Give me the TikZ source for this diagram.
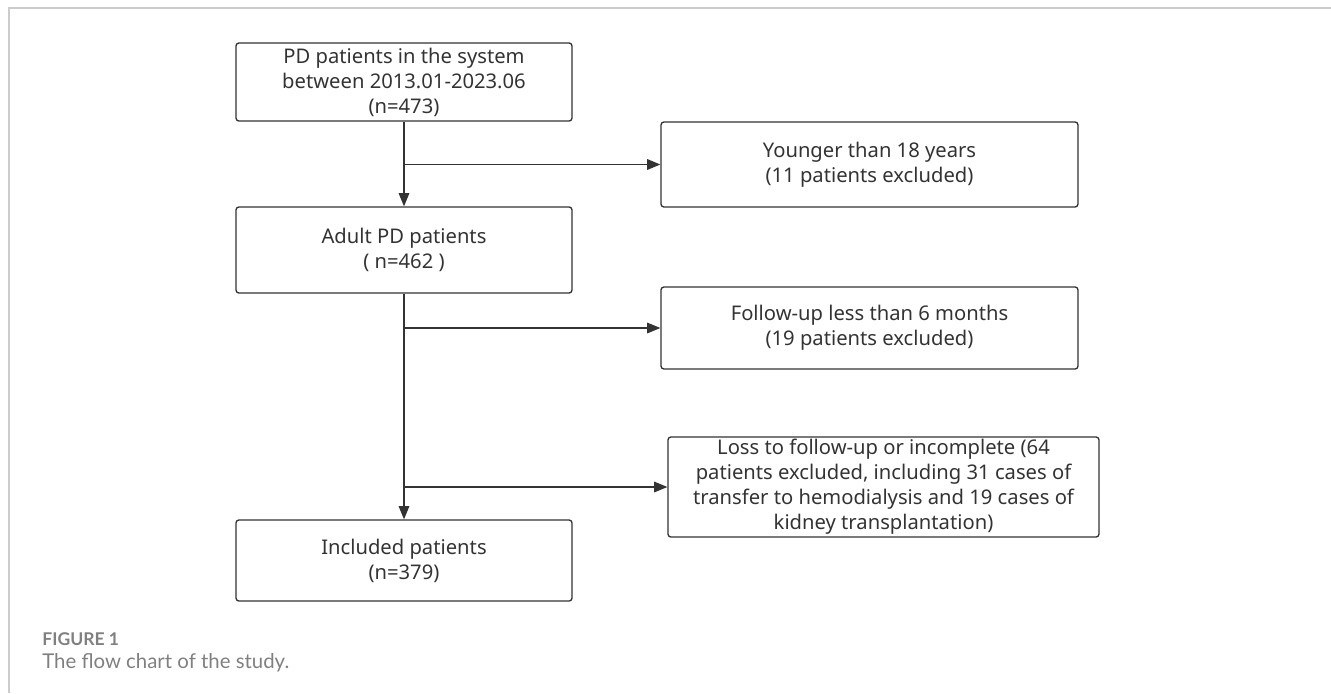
\documentclass[tikz,border=0pt]{standalone}
\usepackage{fontspec}
\setmainfont{Noto Sans}
\newfontfamily\capfont{Lato}
\usetikzlibrary{arrows.meta}
\definecolor{boxtext}{HTML}{333333}
\definecolor{capgray}{HTML}{808080}
\definecolor{framegray}{HTML}{CCCCCC}
\begin{document}
\begin{tikzpicture}[x = .02cm, y = -.02cm,
    flowbox/.style = {draw = boxtext, line width = .75pt, rounded corners = 1.6pt,
      align = center, inner sep = 0pt, text = boxtext,
      font = \fontsize{11.5}{14.2}\selectfont},
    flowline/.style = {draw = boxtext, line width = .75pt},
    flowarrow/.style = {flowline, -{Triangle[length = 7.5pt, width = 6pt]}}]
  \useasboundingbox (0, 0) rectangle (1331, 693);
  % frame of the figure
  \draw[framegray, line width = 1.2pt] (9, 693) -- (9, 8) -- (1331, 8);

  % main column
  \node[flowbox, minimum width = 6.72cm, minimum height = 1.56cm]
    (all) at (404, 82) {PD patients in the system\\between 2013.01-2023.06\\(n=473)};
  \node[flowbox, minimum width = 6.72cm, minimum height = 1.72cm]
    (adult) at (404, 250) {Adult PD patients\\( n=462 )};
  \node[flowbox, minimum width = 6.72cm, minimum height = 1.62cm]
    (incl) at (404, 560.5) {Included patients\\(n=379)};

  % excluded
  \node[flowbox, minimum width = 8.34cm, minimum height = 1.70cm]
    (young) at (869.5, 164.5) {Younger than 18 years\\(11 patients excluded)};
  \node[flowbox, minimum width = 8.34cm, minimum height = 1.64cm]
    (short) at (869.5, 328) {Follow-up less than 6 months\\(19 patients excluded)};
  \node[flowbox, minimum width = 8.62cm, minimum height = 2.00cm]
    (lost) at (883.5, 487) {Loss to follow-up or incomplete (64\\patients excluded, including 31 cases of\\transfer to hemodialysis and 19 cases of\\kidney transplantation)};

  \draw[flowarrow] (all) -- (adult);
  \draw[flowarrow] (adult) -- (incl);
  \coordinate (j1) at (all.south |- young.west);
  \coordinate (j2) at (all.south |- short.west);
  \coordinate (j3) at (all.south |- lost.west);
  \draw[flowarrow] (j1) -- (young.west);
  \draw[flowarrow] (j2) -- (short.west);
  \draw[flowarrow] (j3) -- (lost.west);

  % caption
  \node[anchor = west, inner sep = 0pt, text = capgray,
    font = \capfont\bfseries\fontsize{10}{12}\selectfont] (fig) at (42, 639) {FIGURE 1};
  \node[anchor = west, inner sep = 0pt, text = capgray,
    font = \capfont\fontsize{11.6}{14}\selectfont] (cap) at (42, 663) {The flow chart of the study.};
\end{tikzpicture}
\end{document}
